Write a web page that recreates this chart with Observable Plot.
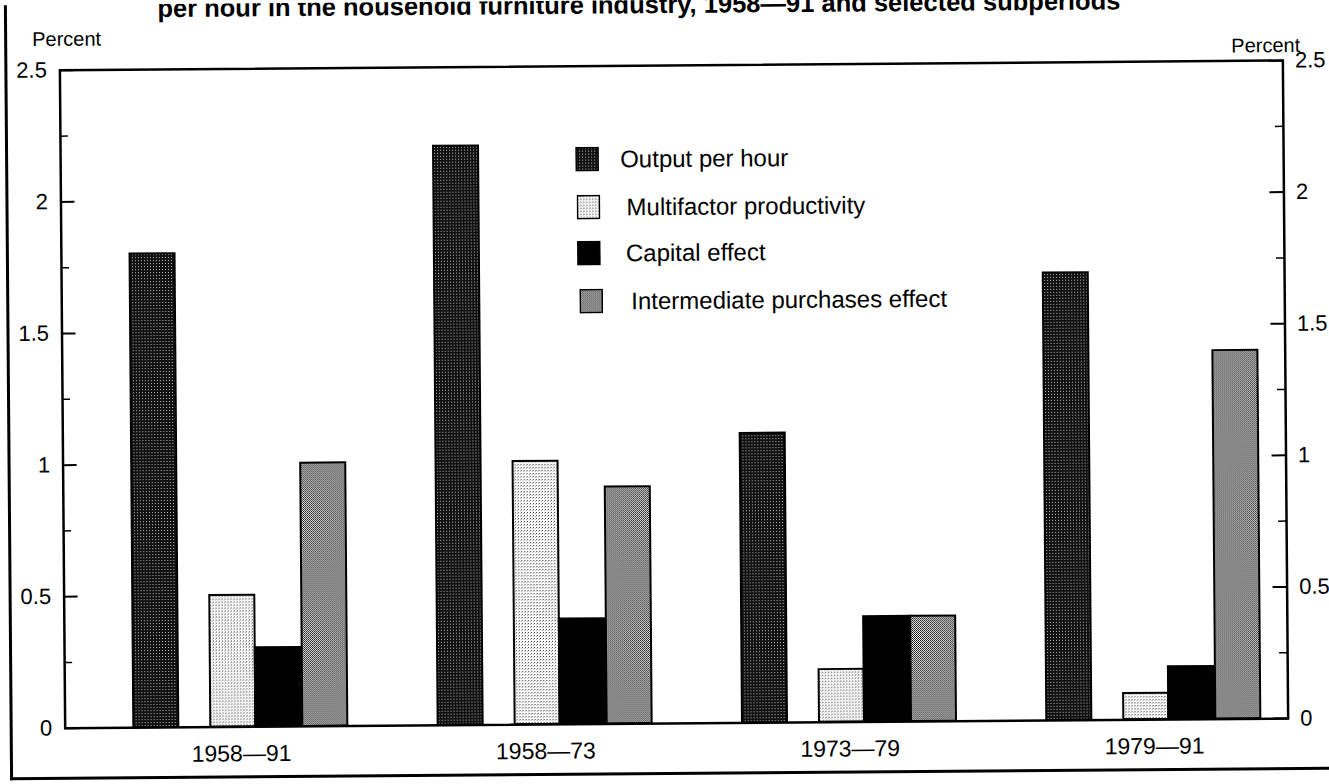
<!DOCTYPE html>
<html>
<head>
<meta charset="utf-8">
<script src="https://cdn.jsdelivr.net/npm/d3@7"></script>
<script src="https://cdn.jsdelivr.net/npm/@observablehq/plot@0.6"></script>
<style>
  html, body { margin: 0; padding: 0; background: #fff; overflow: hidden; }
  #wrap { position: relative; width: 1329px; height: 784px; overflow: hidden;
          transform: rotate(-0.46deg); transform-origin: 50% 50%;
          font-family: "Liberation Sans", Arial, sans-serif; color: #000; }
  #chart { position: absolute; left: 0; top: 0; }
  .abs { position: absolute; white-space: nowrap; line-height: 1; }
  #border { position: absolute; left: 7px; top: -20px; width: 1400px; height: 795px;
            border-left: 3px solid #000; border-bottom: 3px solid #000; box-sizing: border-box; }
  #title { top: -8px; left: 642px; transform: translateX(-50%); font-size: 25.5px; font-weight: bold; }
  .pct { font-size: 20px; }
</style>
</head>
<body>
<div id="wrap">
  <div id="border"></div>
  <div id="chart"></div>
  <div id="title" class="abs">per hour in the household furniture industry, 1958—91 and selected subperiods</div>
  <div class="abs pct" style="left:35px; top:24px;">Percent</div>
  <div class="abs pct" style="left:1234px; top:40px;">Percent</div>
  <div id="legend"></div>
</div>
<script>
// ---- data ----
const periods = ["1958—91", "1958—73", "1973—79", "1979—91"];
const seriesNames = ["Output per hour", "Multifactor productivity", "Capital effect", "Intermediate purchases effect"];
const outputPerHour = [1.8, 2.2, 1.1, 1.7];
const multifactorProductivity = [0.5, 1.0, 0.2, 0.1];
const capitalEffect = [0.3, 0.4, 0.4, 0.2];
const intermediateEffect = [1.0, 0.9, 0.4, 1.4];
const yTicks = [0, 0.5, 1, 1.5, 2, 2.5];
const yMinorTicks = [0.25, 0.75, 1.25, 1.75, 2.25];

const seriesValues = [outputPerHour, multifactorProductivity, capitalEffect, intermediateEffect];
const rows = periods.flatMap((p, i) => seriesNames.map((s, j) => ({period: p, series: s, value: seriesValues[j][i]})));

// ---- layout / style ----
const W = 1329, H = 784, mL = 62, mR = 44, mT = 65, mB = 61;
const plotW = W - mL - mR;
const fills = ["url(#pOut)", "url(#pMulti)", "#000", "url(#pInter)"];
// bar placement within each 215px group band: [insetLeft, insetRight]
const insets = [[0, 170], [77, 93], [122, 46], [169, 1]];

const barMarks = seriesNames.map((s, j) =>
  Plot.barY(rows.filter(d => d.series === s), {
    x: "period", y: "value", fill: fills[j], stroke: "#000", strokeWidth: 2,
    insetLeft: insets[j][0], insetRight: insets[j][1]
  })
);

const chart = Plot.plot({
  width: W, height: H,
  marginLeft: mL, marginRight: mR, marginTop: mT, marginBottom: mB,
  style: {fontFamily: "Liberation Sans, Arial, sans-serif", background: "transparent", color: "#000"},
  x: {type: "band", domain: periods, paddingInner: 0.2935, paddingOuter: 0.156, align: 0.723, round: false, label: null},
  y: {domain: [0, 2.5], label: null},
  marks: [
    ...barMarks,
    Plot.tickY(yTicks, {y: d => d, insetRight: plotW - 14, stroke: "#000", strokeWidth: 2}),
    Plot.tickY(yMinorTicks, {y: d => d, insetRight: plotW - 8, stroke: "#000", strokeWidth: 1.5}),
    Plot.tickY(yTicks, {y: d => d, insetLeft: plotW - 14, stroke: "#000", strokeWidth: 2}),
    Plot.tickY(yMinorTicks, {y: d => d, insetLeft: plotW - 8, stroke: "#000", strokeWidth: 1.5}),
    Plot.frame({stroke: "#000", strokeWidth: 2.5}),
    Plot.axisY(yTicks, {anchor: "left", label: null, tickSize: 0, tickPadding: 13, tickFormat: d => String(d), fontSize: 22}),
    Plot.axisY(yTicks, {anchor: "right", label: null, tickSize: 0, tickPadding: 12, tickFormat: d => String(d), fontSize: 22}),
    Plot.axisX({anchor: "bottom", label: null, tickSize: 0, tickPadding: 18, fontSize: 23})
  ]
});

// halftone-like patterns
const defs = d3.select(chart).insert("defs", ":first-child");
function pattern(id, size, bg, dots) {
  const p = defs.append("pattern").attr("id", id).attr("patternUnits", "userSpaceOnUse")
    .attr("width", size).attr("height", size);
  p.append("rect").attr("width", size).attr("height", size).attr("fill", bg);
  dots.forEach(([x, y, c]) => p.append("rect").attr("x", x).attr("y", y).attr("width", 1).attr("height", 1).attr("fill", c));
}
pattern("pOut", 3, "#111", [[1, 1, "#bbb"]]);
pattern("pMulti", 3, "#fff", [[1, 1, "#333"], [0, 2, "#aaa"]]);
pattern("pInter", 2, "#fff", [[0, 0, "#000"], [1, 1, "#222"]]);
document.getElementById("chart").appendChild(chart);

// legend
const legendRows = [
  {swX: 577, top: 146, txX: 622},
  {swX: 578, top: 194, txX: 628},
  {swX: 578, top: 240, txX: 627},
  {swX: 580, top: 288, txX: 632}
];
const leg = document.getElementById("legend");
seriesNames.forEach((s, j) => {
  const r = legendRows[j];
  const sw = document.createElement("div");
  sw.style.position = "absolute";
  sw.style.left = r.swX + "px";
  sw.style.top = r.top + "px";
  sw.innerHTML = `<svg width="24" height="25" style="display:block"><rect x="1" y="1" width="22" height="23" fill="${fills[j]}" stroke="#000" stroke-width="1.5"/></svg>`;
  leg.appendChild(sw);
  const t = document.createElement("div");
  t.className = "abs";
  t.style.left = r.txX + "px";
  t.style.top = (r.top + 1) + "px";
  t.style.fontSize = "24px";
  t.textContent = s;
  leg.appendChild(t);
});
</script>
</body>
</html>
